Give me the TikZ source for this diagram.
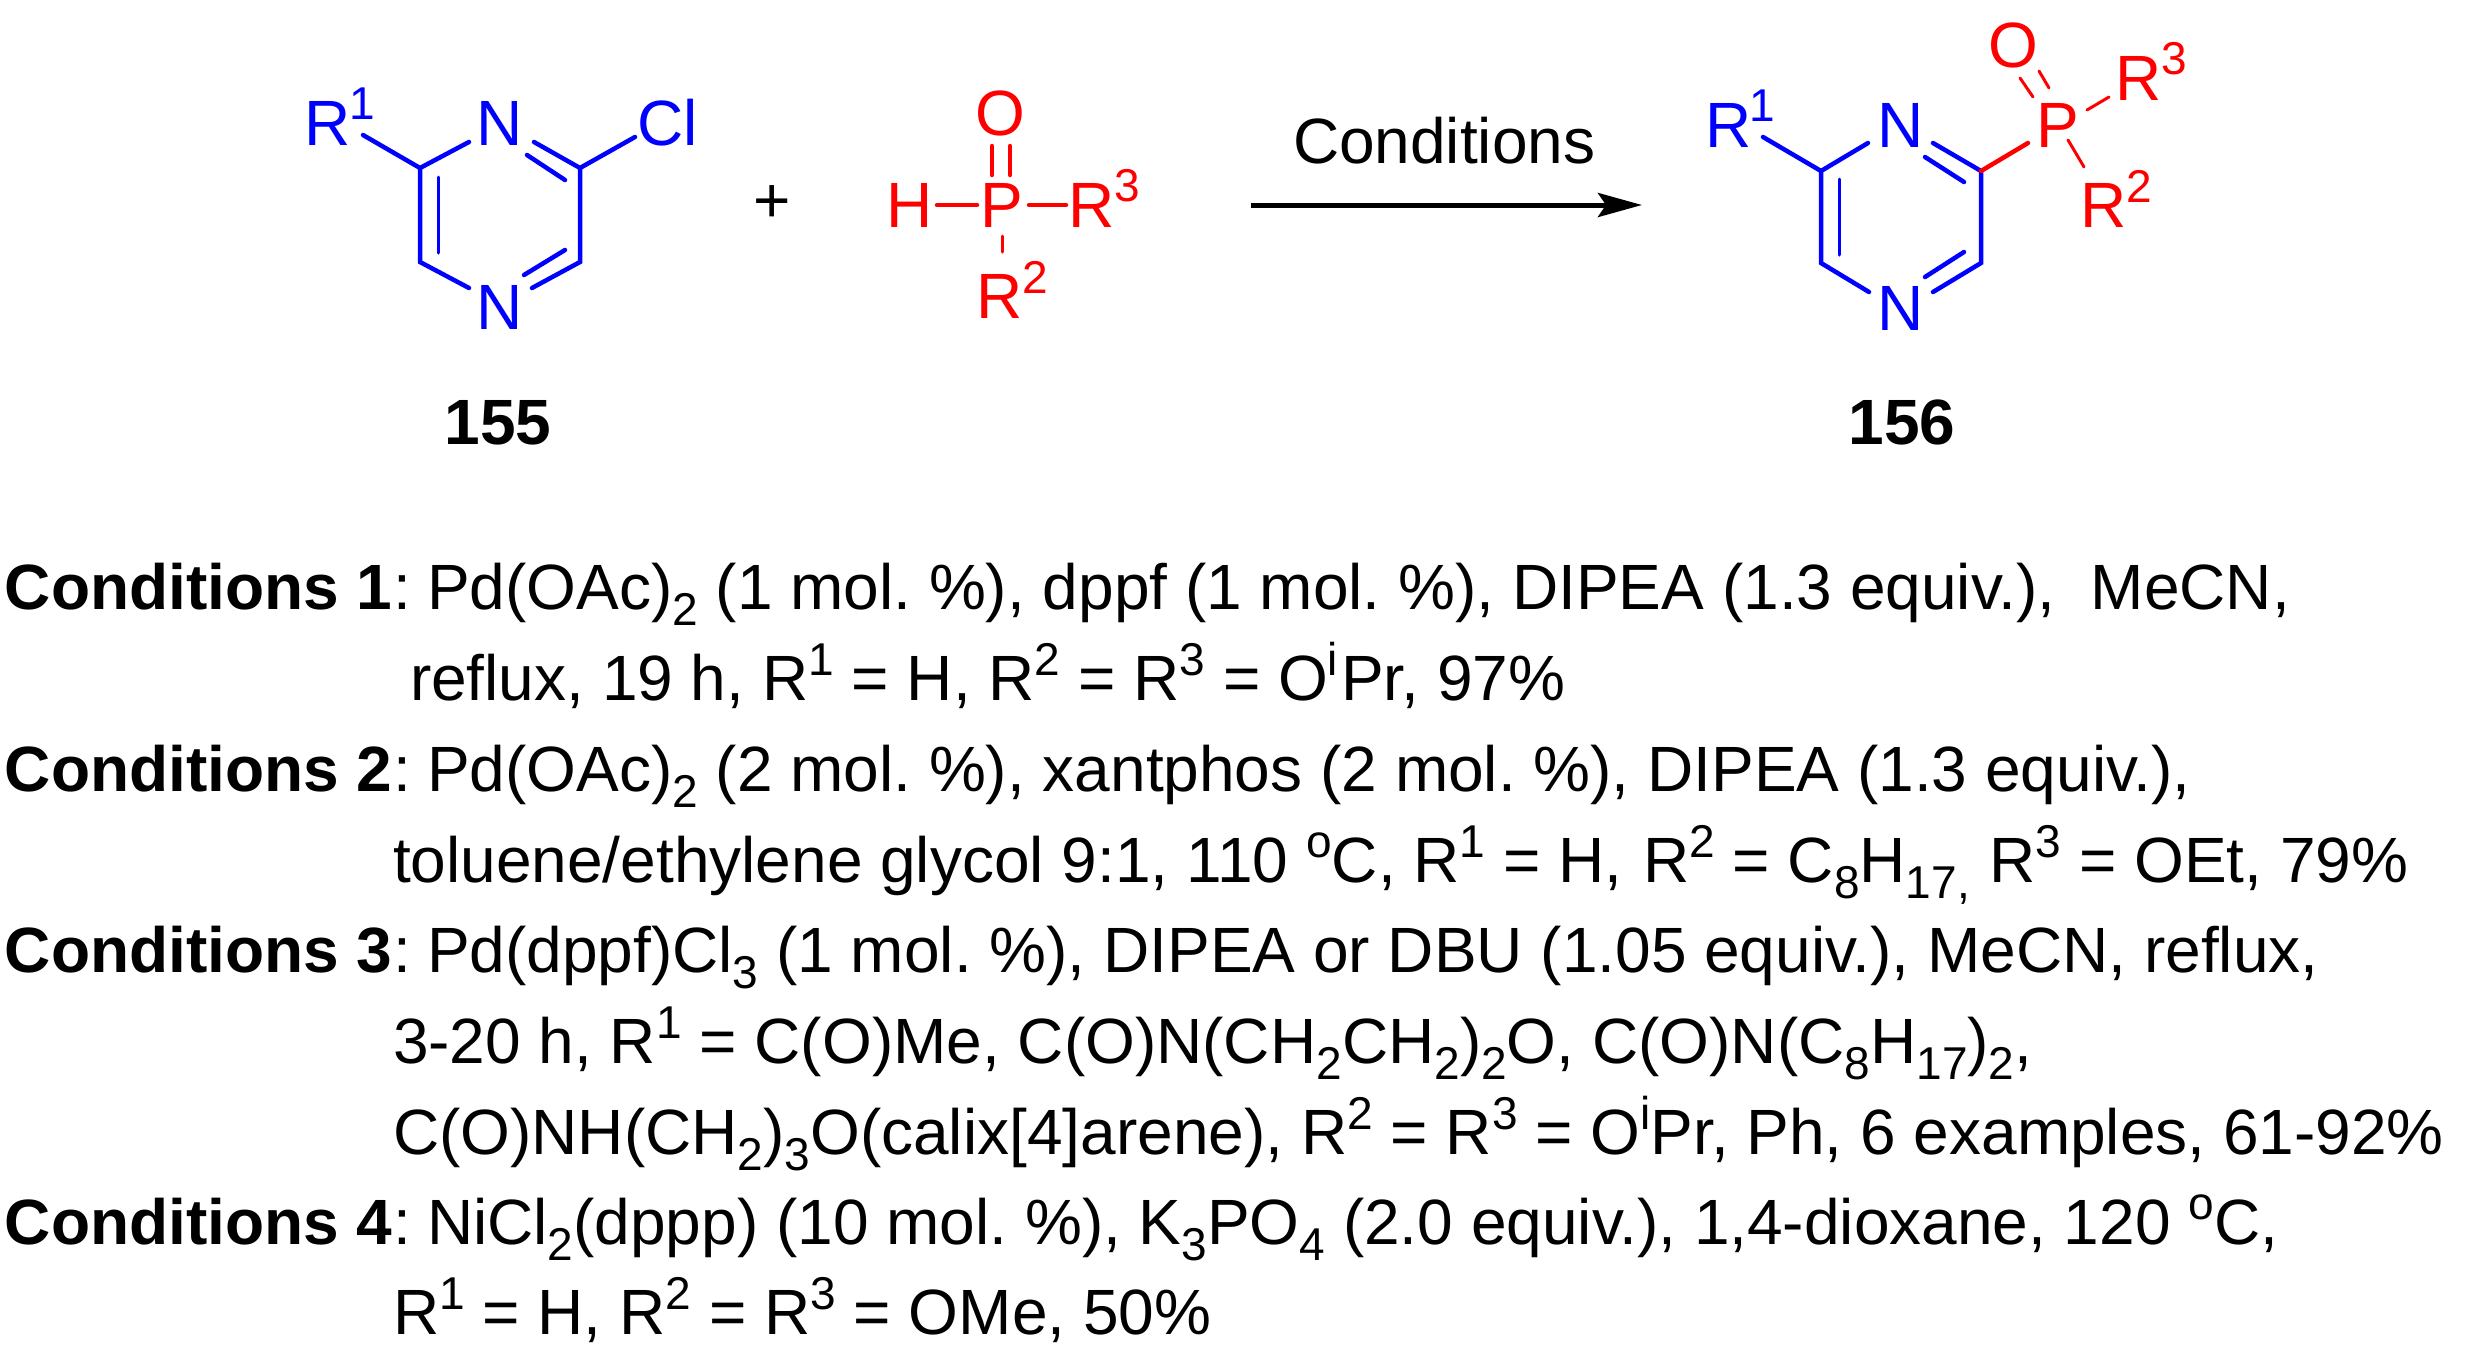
\documentclass[tikz,border=0pt]{standalone}
\usepackage{fontspec}
\setmainfont{Liberation Sans}
\usetikzlibrary{arrows.meta}
\definecolor{chemblue}{RGB}{0,0,255}
\definecolor{chemred}{RGB}{255,0,0}
\newcommand{\bodyfont}{\frenchspacing\fontsize{64}{64}\selectfont}
\newcommand{\scr}{\fontsize{46}{46}\selectfont}
\newcommand{\sbs}[1]{\raisebox{-16pt}{\scr #1}}
\newcommand{\sps}[1]{\raisebox{25pt}{\scr #1}}
\tikzset{
  atom/.style={inner sep=0pt,outer sep=0pt,anchor=center,font=\bodyfont},
  supr/.style={inner sep=0pt,outer sep=0pt,anchor=center,font=\scr},
  bond/.style={line width=4.5pt,line cap=round},
  thinbond/.style={line width=3pt,line cap=round},
  txt/.style={inner sep=0pt,outer sep=0pt,anchor=base west,font=\bodyfont,text=black},
  lbl/.style={inner sep=0pt,outer sep=0pt,anchor=base,font=\bodyfont\bfseries,text=black},
  atomblue/.style={text=chemblue},
  atomred/.style={text=chemred}
}
\begin{document}
\begin{tikzpicture}[x=1pt,y=-1pt]
\useasboundingbox (0,0) rectangle (2466,1358);
\fill[white] (0,0) rectangle (2466,1358);
% --- reactant 155 ---
\coordinate (a1) at (420,168);
\coordinate (a2) at (420,262);
\coordinate (a3) at (580,168);
\coordinate (a4) at (580,262);
\node[atom,atomblue] (aR) at (328,123) {R};
\node[supr,atomblue] (aRs) at (362,104) {1};
\node[atom,atomblue] (aN1) at (500,123) {N};
\node[atom,atomblue] (aN2) at (500,307) {N};
\node[atom,atomblue] (aCl) at (668,123) {Cl};
\begin{scope}[color=chemblue]
\draw[bond] ([shift={(35,12)}]aR.center) -- (a1) -- ([shift={(-31,19)}]aN1.center);
\draw[bond] ([shift={(34,19)}]aN1.center) -- (a3) -- ([shift={(-33,14)}]aCl.center);
\draw[bond] ([shift={(27,32)}]aN1.center) -- ([shift={(65,57)}]aN1.center);
\draw[bond] (a1) -- (a2) -- ([shift={(-31,-19)}]aN2.center);
\draw[thinbond] ([shift={(18,9)}]a1) -- ([shift={(18,-9)}]a2);
\draw[bond] (a3) -- (a4) -- ([shift={(32,-19)}]aN2.center);
\draw[bond] ([shift={(24,-32)}]aN2.center) -- ([shift={(65,-57)}]aN2.center);
\end{scope}
\node[lbl] (n155) at (498,444) {155};
% --- plus ---
\node[atom] (plus) at (772,204) {+};
% --- H-phosphonate ---
\node[atom,atomred] (bH) at (910,205) {H};
\node[atom,atomred] (bP) at (1002,205) {P};
\node[atom,atomred] (bO) at (1000,113) {O};
\node[atom,atomred] (bR3) at (1092,205) {R};
\node[supr,atomred] (bR3s) at (1127,186) {3};
\node[atom,atomred] (bR2) at (1000,296) {R};
\node[supr,atomred] (bR2s) at (1035,277) {2};
\begin{scope}[color=chemred]
\draw[bond] ([shift={(27,0)}]bH.center) -- ([shift={(-25,0)}]bP.center);
\draw[bond] ([shift={(27,0)}]bP.center) -- ([shift={(-26,0)}]bR3.center);
\draw[bond] ([shift={(-8,33)}]bO.center) -- ([shift={(-8,62)}]bO.center);
\draw[bond] ([shift={(10,33)}]bO.center) -- ([shift={(10,62)}]bO.center);
\draw[thinbond] ([shift={(0,31)}]bP.center) -- ([shift={(0,47)}]bP.center);
\end{scope}
% --- arrow ---
\node[txt] (cond) at (1293,163) {Conditions};
\coordinate (arS) at (1251,205);
\coordinate (arE) at (1642,205);
\draw[line width=5pt,-{Stealth[length=44pt,width=24pt,inset=8pt]}] (arS) -- (arE);
% --- product 156 ---
\coordinate (c1) at (1821,171);
\coordinate (c2) at (1821,263);
\coordinate (c3) at (1981,171);
\coordinate (c4) at (1981,263);
\node[atom,atomblue] (cR) at (1729,125) {R};
\node[supr,atomblue] (cRs) at (1762,106) {1};
\node[atom,atomblue] (cN1) at (1901,125) {N};
\node[atom,atomblue] (cN2) at (1901,308) {N};
\node[atom,atomred] (cP) at (2058,125) {P};
\node[atom,atomred] (cO) at (2013,45) {O};
\node[atom,atomred] (cR3) at (2139,78) {R};
\node[supr,atomred] (cR3s) at (2174,59) {3};
\node[atom,atomred] (cR2) at (2104,205) {R};
\node[supr,atomred] (cR2s) at (2139,186) {2};
\begin{scope}[color=chemblue]
\draw[bond] ([shift={(34,12)}]cR.center) -- (c1) -- ([shift={(-33,18)}]cN1.center);
\draw[bond] ([shift={(32,18)}]cN1.center) -- (c3);
\draw[bond] ([shift={(24,32)}]cN1.center) -- ([shift={(63,57)}]cN1.center);
\draw[bond] (c1) -- (c2) -- ([shift={(-32,-16)}]cN2.center);
\draw[thinbond] ([shift={(18,8)}]c1) -- ([shift={(18,-8)}]c2);
\draw[bond] (c3) -- (c4) -- ([shift={(32,-16)}]cN2.center);
\draw[bond] ([shift={(24,-31)}]cN2.center) -- ([shift={(63,-56)}]cN2.center);
\end{scope}
\begin{scope}[color=chemred]
\draw[bond] (c3) -- ([shift={(-30,18)}]cP.center);
\draw[thinbond] ([shift={(-25,-28)}]cP.center) -- ([shift={(-38,-47)}]cP.center);
\draw[thinbond] ([shift={(-9,-37)}]cP.center) -- ([shift={(-19,-54)}]cP.center);
\draw[thinbond] ([shift={(29,-15)}]cP.center) -- ([shift={(51,-28)}]cP.center);
\draw[thinbond] ([shift={(10,15)}]cP.center) -- ([shift={(26,42)}]cP.center);
\end{scope}
\node[lbl] (n156) at (1902,444) {156};
% --- conditions ---
\node[txt] (l1a) at (5,609) {\textbf{Conditions 1}};
\node[txt] (l1b) at (393,609) {: };
\node[txt] (l1c) at (427,609) {Pd(OAc)\sbs{2} (1 mol. \%), dppf (1 mol. \%), DIPEA (1.3 equiv.),\ \ MeCN,};
\node[txt] (l2) at (410,700) {reflux, 19 h, R\sps{1} = H, R\sps{2} = R\sps{3} = O\sps{i}\kern3pt Pr, 97\%};
\node[txt] (l3a) at (5,791) {\textbf{Conditions 2}};
\node[txt] (l3b) at (393,791) {: };
\node[txt] (l3c) at (427,791) {Pd(OAc)\sbs{2} (2 mol. \%), xantphos (2 mol. \%), DIPEA (1.3 equiv.),};
\node[txt] (l4) at (393,882) {toluene/ethylene glycol 9:1, 110 \sps{o}C, R\sps{1} = H,\kern3pt{} R\sps{2} = C\sbs{8}H\sbs{17,}\kern2pt{} R\sps{3} = OEt, 79\%};
\node[txt] (l5a) at (5,972) {\textbf{Conditions 3}};
\node[txt] (l5b) at (393,972) {: };
\node[txt] (l5c) at (427,972) {Pd(dppf)Cl\sbs{3} (1 mol. \%), DIPEA or DBU (1.05 equiv.), MeCN, reflux,};
\node[txt] (l6) at (393,1063) {3-20 h, R\sps{1} = C(O)Me, C(O)N(CH\sbs{2}CH\sbs{2})\sbs{2}O, C(O)N(C\sbs{8}H\sbs{17})\sbs{2},};
\node[txt] (l7) at (393,1154) {C(O)NH(CH\sbs{2})\sbs{3}O(calix[4]arene), R\sps{2} = R\sps{3} = O\sps{i}Pr, Ph, 6 examples, 61-92\%};
\node[txt] (l8a) at (5,1244) {\textbf{Conditions 4}};
\node[txt] (l8b) at (393,1244) {: };
\node[txt] (l8c) at (427,1244) {NiCl\sbs{2}(dppp) (10 mol. \%), K\sbs{3}PO\sbs{4} (2.0 equiv.), 1,4-dioxane, 120 \sps{o}C,};
\node[txt] (l9) at (393,1334) {R\sps{1} = H, R\sps{2} = R\sps{3} = OMe, 50\%};
\end{tikzpicture}
\end{document}
